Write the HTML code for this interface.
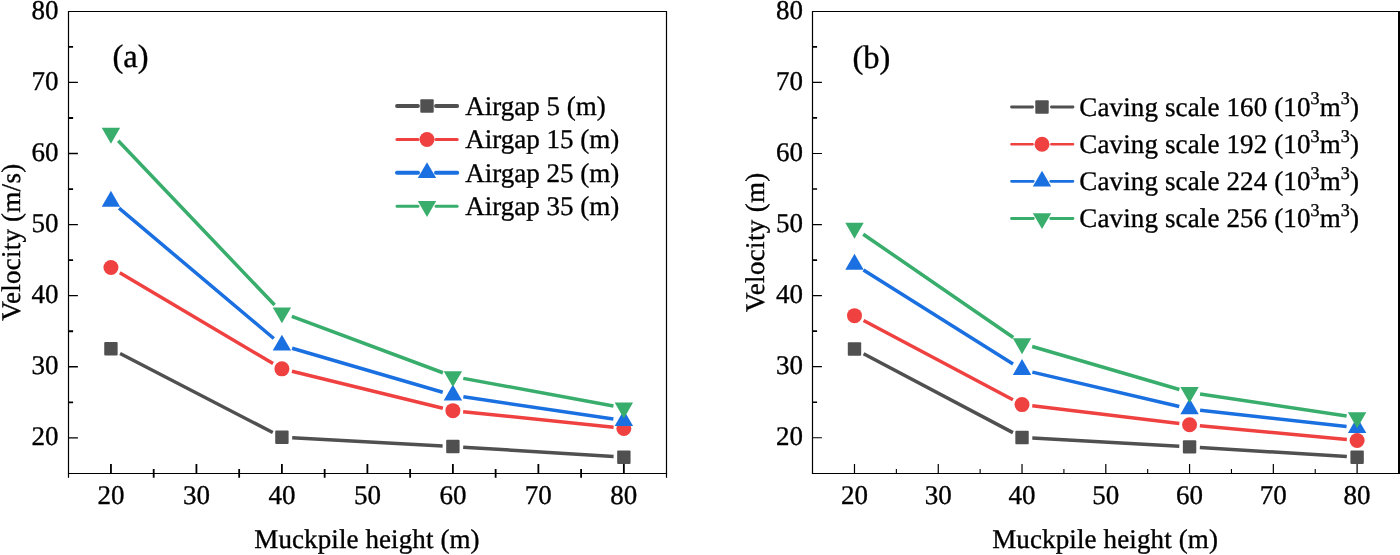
<!DOCTYPE html><html><head><meta charset="utf-8"><style>html,body{margin:0;padding:0;background:#fff;width:1400px;height:555px;overflow:hidden}svg{display:block;will-change:transform}text{font-family:"Liberation Serif", serif;fill:#000;stroke:#000;stroke-width:0.35px;text-rendering:geometricPrecision}</style></head><body>
<svg width="1400" height="555" viewBox="0 0 1400 555">
<path d="M68.5 11.5H666.5M68.5 473.5H666.5M68.5 10.9V474.1" stroke="#000" stroke-width="1.2" fill="none"/>
<path d="M666.5 10.9V474.1" stroke="#000" stroke-width="1.2" fill="none"/>
<path d="M68.50 437.86H77.90M68.50 366.77H77.90M68.50 295.69H77.90M68.50 224.60H77.90M68.50 153.52H77.90M68.50 82.43H77.90" stroke="#000" stroke-width="1.3" fill="none"/>
<path d="M110.94 473.50V464.00M196.43 473.50V464.00M281.91 473.50V464.00M367.40 473.50V464.00M452.89 473.50V464.00M538.37 473.50V464.00M623.86 473.50V464.00" stroke="#000" stroke-width="1.8" fill="none"/>
<path d="M68.50 473.50V477.80" stroke="#000" stroke-width="1.2"/>
<path d="M666.50 473.50V477.80" stroke="#000" stroke-width="1.2"/>
<path d="M153.69 477.80V468.90M239.17 477.80V468.90M324.66 477.80V468.90M410.14 477.80V468.90M495.63 477.80V468.90M581.11 477.80V468.90" stroke="#000" stroke-width="1.8" fill="none"/>
<path d="M68.50 402.32H73.10M68.50 331.23H73.10M68.50 260.15H73.10M68.50 189.06H73.10M68.50 117.98H73.10M68.50 46.89H73.10" stroke="#000" stroke-width="1.8" fill="none"/>
<text x="58.50" y="444.86" font-size="27" text-anchor="end">20</text>
<text x="110.94" y="504.2" font-size="27" text-anchor="middle">20</text>
<text x="58.50" y="373.97" font-size="27" text-anchor="end">30</text>
<text x="196.43" y="504.2" font-size="27" text-anchor="middle">30</text>
<text x="58.50" y="302.69" font-size="27" text-anchor="end">40</text>
<text x="281.91" y="504.2" font-size="27" text-anchor="middle">40</text>
<text x="58.50" y="232.00" font-size="27" text-anchor="end">50</text>
<text x="367.40" y="504.2" font-size="27" text-anchor="middle">50</text>
<text x="58.50" y="160.92" font-size="27" text-anchor="end">60</text>
<text x="452.89" y="504.2" font-size="27" text-anchor="middle">60</text>
<text x="58.50" y="90.33" font-size="27" text-anchor="end">70</text>
<text x="538.37" y="504.2" font-size="27" text-anchor="middle">70</text>
<text x="58.50" y="19.15" font-size="27" text-anchor="end">80</text>
<text x="623.86" y="504.2" font-size="27" text-anchor="middle">80</text>
<text x="366.95" y="547.8" font-size="27" text-anchor="middle" textLength="225.3" lengthAdjust="spacing">Muckpile height (m)</text>
<text transform="translate(20.00 242.35) rotate(-90)" x="0" y="0" font-size="27" text-anchor="middle" textLength="157.0" lengthAdjust="spacing">Velocity (m/s)</text>
<text x="112.40" y="67.00" font-size="32.5">(a)</text>
<path d="M120.09 353.52L272.77 432.55M292.20 437.84L442.60 445.97M463.17 447.17L613.58 456.55" stroke="#505050" stroke-width="3.5" stroke-linecap="butt" fill="none"/>
<path d="M119.80 272.79L273.05 363.58M291.92 371.28L442.88 408.19M463.13 411.70L613.61 427.34" stroke="#f04141" stroke-width="3.5" stroke-linecap="butt" fill="none"/>
<path d="M119.05 208.19L273.81 338.48M292.09 348.28L442.71 392.24M463.37 396.77L613.37 419.09" stroke="#1a70e0" stroke-width="3.5" stroke-linecap="butt" fill="none"/>
<path d="M118.25 140.73L274.61 305.07M291.85 316.45L442.95 372.74M463.31 378.36L613.43 405.94" stroke="#38ad6c" stroke-width="3.5" stroke-linecap="butt" fill="none"/>
<rect x="104.24" y="342.09" width="13.40" height="13.40" rx="1" fill="#505050"/>
<rect x="275.21" y="430.59" width="13.40" height="13.40" rx="1" fill="#505050"/>
<rect x="446.19" y="439.83" width="13.40" height="13.40" rx="1" fill="#505050"/>
<rect x="617.16" y="450.49" width="13.40" height="13.40" rx="1" fill="#505050"/>
<circle cx="110.94" cy="267.54" r="7.50" fill="#f04141"/>
<circle cx="281.91" cy="368.83" r="7.50" fill="#f04141"/>
<circle cx="452.89" cy="410.63" r="7.50" fill="#f04141"/>
<circle cx="623.86" cy="428.40" r="7.50" fill="#f04141"/>
<polygon points="110.94,190.74 120.14,206.67 101.74,206.67" fill="#1a70e0"/>
<polygon points="281.91,334.68 291.11,350.62 272.71,350.62" fill="#1a70e0"/>
<polygon points="452.89,384.58 462.09,400.52 443.69,400.52" fill="#1a70e0"/>
<polygon points="623.86,410.03 633.06,425.97 614.66,425.97" fill="#1a70e0"/>
<polygon points="110.94,143.67 120.14,127.74 101.74,127.74" fill="#38ad6c"/>
<polygon points="281.91,323.37 291.11,307.44 272.71,307.44" fill="#38ad6c"/>
<polygon points="452.89,387.06 462.09,371.13 443.69,371.13" fill="#38ad6c"/>
<polygon points="623.86,418.48 633.06,402.55 614.66,402.55" fill="#38ad6c"/>
<path d="M812.5 11.5H1399.0M812.5 473.5H1399.0M812.5 10.9V474.1" stroke="#000" stroke-width="1.2" fill="none"/>
<path d="M1399.0 10.9V474.1" stroke="#000" stroke-width="2.0" fill="none"/>
<path d="M812.50 437.77H821.90M812.50 366.70H821.90M812.50 295.63H821.90M812.50 224.56H821.90M812.50 153.49H821.90M812.50 82.42H821.90" stroke="#000" stroke-width="1.2" fill="none"/>
<path d="M854.49 473.50V464.00M938.26 473.50V464.00M1022.03 473.50V464.00M1105.80 473.50V464.00M1189.57 473.50V464.00M1273.34 473.50V464.00M1357.11 473.50V464.00" stroke="#000" stroke-width="1.2" fill="none"/>
<path d="M896.37 473.50V468.90M980.14 473.50V468.90M1063.91 473.50V468.90M1147.69 473.50V468.90M1231.46 473.50V468.90M1315.23 473.50V468.90" stroke="#000" stroke-width="1.1" fill="none"/>
<path d="M812.50 402.23H817.10M812.50 331.16H817.10M812.50 260.09H817.10M812.50 189.02H817.10M812.50 117.95H817.10M812.50 46.88H817.10" stroke="#000" stroke-width="1.7" fill="none"/>
<text x="802.90" y="444.77" font-size="27" text-anchor="end">20</text>
<text x="854.49" y="504.2" font-size="27" text-anchor="middle">20</text>
<text x="802.90" y="373.90" font-size="27" text-anchor="end">30</text>
<text x="938.26" y="504.2" font-size="27" text-anchor="middle">30</text>
<text x="802.90" y="302.63" font-size="27" text-anchor="end">40</text>
<text x="1022.03" y="504.2" font-size="27" text-anchor="middle">40</text>
<text x="802.90" y="231.96" font-size="27" text-anchor="end">50</text>
<text x="1105.80" y="504.2" font-size="27" text-anchor="middle">50</text>
<text x="802.90" y="160.89" font-size="27" text-anchor="end">60</text>
<text x="1189.57" y="504.2" font-size="27" text-anchor="middle">60</text>
<text x="802.90" y="90.32" font-size="27" text-anchor="end">70</text>
<text x="1273.34" y="504.2" font-size="27" text-anchor="middle">70</text>
<text x="802.90" y="19.15" font-size="27" text-anchor="end">80</text>
<text x="1357.11" y="504.2" font-size="27" text-anchor="middle">80</text>
<text x="1105.05" y="547.8" font-size="27" text-anchor="middle" textLength="225.8" lengthAdjust="spacing">Muckpile height (m)</text>
<text transform="translate(764.40 242.35) rotate(-90)" x="0" y="0" font-size="27" text-anchor="middle" textLength="139.4" lengthAdjust="spacing">Velocity (m)</text>
<text x="852.40" y="68.10" font-size="32.5">(b)</text>
<path d="M863.59 353.81L1012.92 432.67M1032.31 438.06L1179.29 446.29M1199.85 447.50L1346.83 456.60" stroke="#505050" stroke-width="3.5" stroke-linecap="butt" fill="none"/>
<path d="M863.58 320.50L1012.93 399.75M1032.26 405.80L1179.34 423.46M1199.83 425.65L1346.86 439.50" stroke="#f04141" stroke-width="3.5" stroke-linecap="butt" fill="none"/>
<path d="M863.46 270.00L1013.05 364.04M1032.35 372.10L1179.25 406.56M1200.11 410.16L1346.58 426.50" stroke="#1a70e0" stroke-width="3.5" stroke-linecap="butt" fill="none"/>
<path d="M863.22 234.19L1013.30 337.52M1032.20 346.50L1179.40 389.45M1200.05 393.99L1346.63 415.94" stroke="#38ad6c" stroke-width="3.5" stroke-linecap="butt" fill="none"/>
<rect x="847.79" y="342.30" width="13.40" height="13.40" rx="1" fill="#505050"/>
<rect x="1015.33" y="430.78" width="13.40" height="13.40" rx="1" fill="#505050"/>
<rect x="1182.87" y="440.16" width="13.40" height="13.40" rx="1" fill="#505050"/>
<rect x="1350.41" y="450.54" width="13.40" height="13.40" rx="1" fill="#505050"/>
<circle cx="854.49" cy="315.67" r="7.50" fill="#f04141"/>
<circle cx="1022.03" cy="404.58" r="7.50" fill="#f04141"/>
<circle cx="1189.57" cy="424.69" r="7.50" fill="#f04141"/>
<circle cx="1357.11" cy="440.47" r="7.50" fill="#f04141"/>
<polygon points="854.49,253.73 863.69,269.67 845.29,269.67" fill="#1a70e0"/>
<polygon points="1022.03,359.06 1031.23,374.99 1012.83,374.99" fill="#1a70e0"/>
<polygon points="1189.57,398.36 1198.77,414.29 1180.37,414.29" fill="#1a70e0"/>
<polygon points="1357.11,417.05 1366.31,432.99 1347.91,432.99" fill="#1a70e0"/>
<polygon points="854.49,238.81 863.69,222.87 845.29,222.87" fill="#38ad6c"/>
<polygon points="1022.03,354.15 1031.23,338.22 1012.83,338.22" fill="#38ad6c"/>
<polygon points="1189.57,403.05 1198.77,387.11 1180.37,387.11" fill="#38ad6c"/>
<polygon points="1357.11,428.13 1366.31,412.20 1347.91,412.20" fill="#38ad6c"/>
<path d="M397.00 106.00H418.00M436.00 106.00H457.20" stroke="#505050" stroke-width="3.8" stroke-linecap="round" fill="none"/>
<rect x="420.30" y="99.30" width="13.40" height="13.40" rx="1" fill="#505050"/>
<text x="465.30" y="114.80" font-size="27">Airgap 5 (m)</text>
<path d="M397.00 139.50H418.00M436.00 139.50H457.20" stroke="#f04141" stroke-width="3.2" stroke-linecap="round" fill="none"/>
<circle cx="427.00" cy="139.50" r="7.50" fill="#f04141"/>
<text x="465.30" y="148.30" font-size="27">Airgap 15 (m)</text>
<path d="M397.00 172.80H418.00M436.00 172.80H457.20" stroke="#1a70e0" stroke-width="4.0" stroke-linecap="round" fill="none"/>
<polygon points="427.00,162.18 436.20,178.11 417.80,178.11" fill="#1a70e0"/>
<text x="465.30" y="181.60" font-size="27">Airgap 25 (m)</text>
<path d="M397.00 206.30H418.00M436.00 206.30H457.20" stroke="#38ad6c" stroke-width="3.0" stroke-linecap="round" fill="none"/>
<polygon points="427.00,216.92 436.20,200.99 417.80,200.99" fill="#38ad6c"/>
<text x="465.30" y="215.10" font-size="27">Airgap 35 (m)</text>
<path d="M1011.50 107.00H1032.60M1051.40 107.00H1073.00" stroke="#505050" stroke-width="2.8" stroke-linecap="round" fill="none"/>
<rect x="1035.30" y="100.30" width="13.40" height="13.40" rx="1" fill="#505050"/>
<text x="1079.30" y="115.90" font-size="27" textLength="279.6" lengthAdjust="spacing">Caving scale 160 (10<tspan font-size="18" dy="-11.5">3</tspan><tspan dy="11.5">m</tspan><tspan font-size="18" dy="-11.5">3</tspan><tspan dy="11.5">)</tspan></text>
<path d="M1011.50 144.20H1032.60M1051.40 144.20H1073.00" stroke="#f04141" stroke-width="2.6" stroke-linecap="round" fill="none"/>
<circle cx="1042.00" cy="144.20" r="7.50" fill="#f04141"/>
<text x="1079.30" y="153.10" font-size="27" textLength="279.6" lengthAdjust="spacing">Caving scale 192 (10<tspan font-size="18" dy="-11.5">3</tspan><tspan dy="11.5">m</tspan><tspan font-size="18" dy="-11.5">3</tspan><tspan dy="11.5">)</tspan></text>
<path d="M1011.50 181.30H1033.30M1050.70 181.30H1073.00" stroke="#1a70e0" stroke-width="2.7" stroke-linecap="round" fill="none"/>
<polygon points="1042.00,170.68 1051.20,186.61 1032.80,186.61" fill="#1a70e0"/>
<text x="1079.30" y="190.20" font-size="27" textLength="279.6" lengthAdjust="spacing">Caving scale 224 (10<tspan font-size="18" dy="-11.5">3</tspan><tspan dy="11.5">m</tspan><tspan font-size="18" dy="-11.5">3</tspan><tspan dy="11.5">)</tspan></text>
<path d="M1011.50 218.50H1033.30M1050.70 218.50H1073.00" stroke="#38ad6c" stroke-width="2.8" stroke-linecap="round" fill="none"/>
<polygon points="1042.00,229.12 1051.20,213.19 1032.80,213.19" fill="#38ad6c"/>
<text x="1079.30" y="227.40" font-size="27" textLength="279.6" lengthAdjust="spacing">Caving scale 256 (10<tspan font-size="18" dy="-11.5">3</tspan><tspan dy="11.5">m</tspan><tspan font-size="18" dy="-11.5">3</tspan><tspan dy="11.5">)</tspan></text>
</svg></body></html>
